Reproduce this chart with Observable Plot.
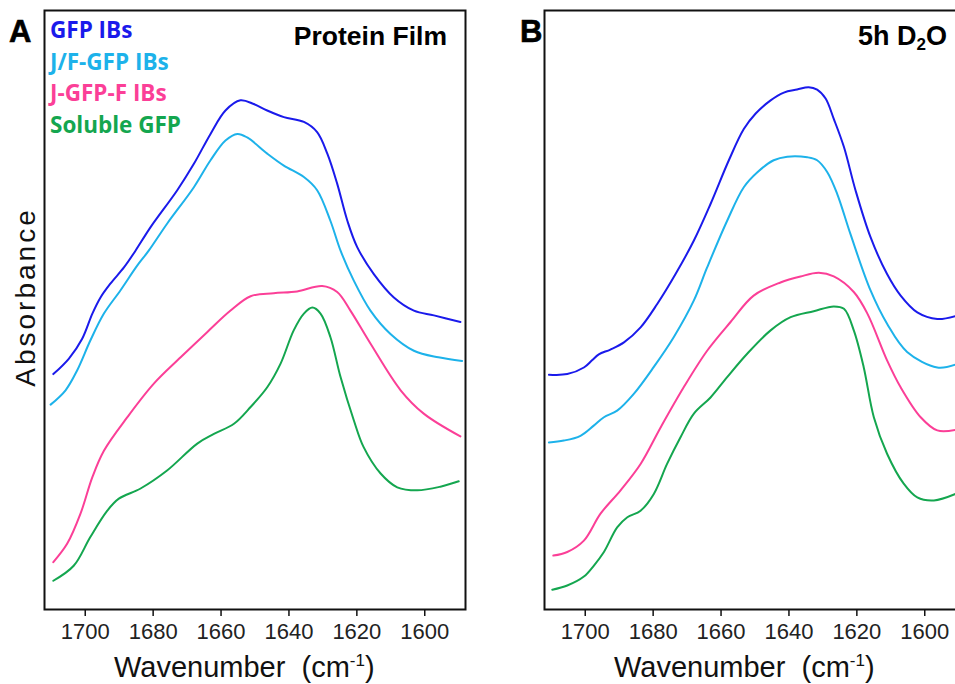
<!DOCTYPE html>
<html><head><meta charset="utf-8">
<script src="https://cdn.jsdelivr.net/npm/d3@7"></script>
<script src="https://cdn.jsdelivr.net/npm/@observablehq/plot@0.6"></script>
<style>
html,body{margin:0;padding:0;background:#fff;overflow:hidden}
#wrap{position:relative;width:955px;height:684px;overflow:hidden;background:#fff}
#wrap svg{position:absolute;top:0}
</style></head><body><div id="wrap"></div>
<script>
// ---- data (normalised absorbance vs wavenumber, cm-1) ----
const wavenumberTicks = [1700, 1680, 1660, 1640, 1620, 1600];
const seriesNames = ["GFP IBs", "J/F-GFP IBs", "J-GFP-F IBs", "Soluble GFP"];
const seriesColors = ["#1a1aeb", "#1db2ea", "#fb3f97", "#14a64f"];
const panelTitles = ["Protein Film", "5h D2O"];
const panelLetters = ["A", "B"];

// Panel A: Protein Film
const filmGFP = [[1709.4,0.393],[1704.8,0.419],[1700.9,0.452],[1697.9,0.494],[1695.5,0.521],[1692.6,0.544],[1688.6,0.571],[1685.2,0.599],[1680.8,0.638],[1672.9,0.700],[1668.0,0.744],[1663.1,0.794],[1658.7,0.833],[1654.3,0.850],[1650.4,0.844],[1646.4,0.833],[1641.5,0.822],[1635.6,0.814],[1631.7,0.797],[1628.7,0.761],[1625.8,0.711],[1622.8,0.649],[1619.9,0.605],[1615.0,0.560],[1609.1,0.521],[1603.2,0.499],[1597.3,0.491],[1589.5,0.480]];
const filmJF = [[1710.2,0.342],[1705.8,0.366],[1702.4,0.399],[1698.5,0.449],[1694.5,0.494],[1689.6,0.533],[1684.7,0.574],[1681.3,0.599],[1675.9,0.644],[1668.0,0.705],[1663.1,0.750],[1658.7,0.783],[1655.2,0.794],[1652.3,0.788],[1646.4,0.761],[1641.5,0.741],[1635.6,0.722],[1631.7,0.700],[1627.8,0.649],[1624.8,0.599],[1620.9,0.549],[1616.0,0.499],[1610.1,0.460],[1603.2,0.432],[1596.0,0.421],[1589.0,0.415]];
const filmJGFPF = [[1709.4,0.079],[1705.3,0.110],[1701.4,0.160],[1697.9,0.221],[1694.5,0.265],[1687.6,0.321],[1679.8,0.377],[1671.9,0.421],[1664.1,0.463],[1657.2,0.499],[1651.3,0.523],[1644.5,0.528],[1637.6,0.531],[1630.2,0.540],[1625.8,0.530],[1621.9,0.499],[1616.0,0.444],[1607.1,0.366],[1600.3,0.327],[1589.5,0.289]];
const filmSoluble = [[1709.4,0.048],[1703.4,0.073],[1698.5,0.121],[1693.5,0.165],[1690.1,0.185],[1683.7,0.202],[1675.9,0.232],[1667.0,0.277],[1662.1,0.293],[1656.2,0.310],[1651.3,0.338],[1646.4,0.371],[1642.5,0.410],[1638.6,0.466],[1635.6,0.494],[1633.1,0.504],[1630.7,0.494],[1627.8,0.455],[1624.8,0.388],[1620.9,0.316],[1618.0,0.271],[1613.0,0.227],[1608.1,0.204],[1602.2,0.199],[1595.4,0.205],[1590.0,0.214]];

// Panel B: 5h D2O
const d2oGFP = [[1710.7,0.392],[1705.3,0.393],[1700.4,0.404],[1698.0,0.416],[1696.0,0.426],[1692.6,0.434],[1688.6,0.446],[1683.7,0.471],[1678.8,0.510],[1673.4,0.560],[1668.0,0.616],[1663.1,0.677],[1657.7,0.750],[1653.3,0.802],[1649.8,0.828],[1645.4,0.850],[1641.5,0.863],[1637.6,0.868],[1634.2,0.872],[1631.7,0.868],[1629.2,0.853],[1626.8,0.819],[1623.8,0.772],[1620.4,0.700],[1616.0,0.622],[1611.1,0.560],[1607.1,0.524],[1602.2,0.496],[1596.3,0.485],[1590.9,0.490]];
const d2oJF = [[1710.7,0.279],[1706.3,0.282],[1701.4,0.290],[1697.5,0.307],[1694.5,0.321],[1690.6,0.332],[1685.7,0.360],[1679.8,0.405],[1673.9,0.455],[1668.0,0.516],[1664.1,0.571],[1658.2,0.649],[1653.3,0.705],[1649.3,0.730],[1644.5,0.750],[1640.5,0.756],[1634.6,0.755],[1631.7,0.750],[1628.7,0.730],[1625.8,0.694],[1621.9,0.627],[1616.0,0.533],[1611.1,0.477],[1605.2,0.430],[1596.3,0.404],[1590.9,0.409]];
const d2oJGFPF = [[1709.4,0.090],[1705.3,0.096],[1700.4,0.115],[1695.5,0.160],[1689.6,0.199],[1683.7,0.243],[1677.8,0.304],[1671.0,0.371],[1664.1,0.432],[1657.2,0.480],[1650.4,0.524],[1642.5,0.546],[1636.6,0.556],[1631.2,0.562],[1626.8,0.556],[1620.9,0.530],[1616.9,0.494],[1611.1,0.416],[1607.1,0.371],[1601.2,0.321],[1596.3,0.299],[1590.9,0.300]];
const d2oSoluble = [[1709.7,0.033],[1705.3,0.040],[1700.4,0.055],[1697.5,0.073],[1694.5,0.096],[1690.6,0.137],[1687.6,0.154],[1683.7,0.165],[1679.8,0.193],[1675.9,0.243],[1671.9,0.288],[1668.0,0.327],[1663.1,0.354],[1658.2,0.388],[1652.3,0.427],[1645.4,0.466],[1639.5,0.488],[1632.7,0.498],[1626.8,0.506],[1623.8,0.502],[1620.9,0.466],[1618.0,0.405],[1615.0,0.321],[1611.1,0.260],[1606.2,0.210],[1602.2,0.187],[1597.3,0.182],[1590.9,0.193]];

const panels = [
  {series: [filmGFP, filmJF, filmJGFPF, filmSoluble], left: 0, legend: true},
  {series: [d2oGFP, d2oJF, d2oJGFPF, d2oSoluble], left: 500, legend: false}
];

const wrap = document.getElementById("wrap");
const ARIAL = "'Liberation Sans', Arial, sans-serif";

panels.forEach((p, i) => {
  const marks = [];
  p.series.forEach((s, k) => {
    marks.push(Plot.line(s, {x: d => d[0], y: d => d[1], stroke: seriesColors[k], strokeWidth: 2, curve: "catmull-rom"}));
  });
  marks.push(Plot.frame({stroke: "#111", strokeWidth: 2}));
  marks.push(Plot.axisX({ticks: wavenumberTicks, tickSize: 7, tickPadding: 7, tickFormat: d => String(d), label: null, fill: "#222", stroke: "#111", strokeWidth: 1.5}));
  const chart = Plot.plot({
    width: 480, height: 684,
    marginLeft: 44, marginRight: 15, marginTop: 10, marginBottom: 75,
    x: {domain: [1712, 1588]},
    y: {domain: [0, 1], axis: null},
    style: {fontFamily: ARIAL, fontSize: "22px", background: "transparent", overflow: "visible"},
    marks
  });
  chart.style.left = p.left + "px";
  wrap.appendChild(chart);
  const svg = d3.select(chart);
  const xs = chart.scale("x");

  // panel letter
  svg.append("text").attr("x", i === 0 ? 9 : 20).attr("y", 42).attr("text-anchor", "start")
    .attr("font-family", ARIAL).attr("font-weight", "bold").attr("font-size", 31).attr("fill", "#000")
    .attr("stroke", "#000").attr("stroke-width", 0.6)
    .text(panelLetters[i]);

  // panel title
  const t = svg.append("text").attr("x", 447).attr("y", 45).attr("text-anchor", "end")
    .attr("font-family", ARIAL).attr("font-weight", "bold").attr("font-size", i === 0 ? 26.5 : 27).attr("fill", "#000");
  if (i === 0) t.text(panelTitles[0]);
  else {
    t.append("tspan").text("5h D");
    t.append("tspan").attr("font-size", 17).attr("dy", 5).text("2");
    t.append("tspan").attr("dy", -5).text("O");
  }

  // x axis title
  const xt = svg.append("text").attr("x", xs.apply(1653)).attr("y", 677).attr("text-anchor", "middle")
    .attr("font-family", ARIAL).attr("font-size", 29).attr("fill", "#111").attr("xml:space", "preserve");
  xt.append("tspan").text("Wavenumber  (cm");
  xt.append("tspan").attr("font-size", 17).attr("dy", -11).text("-1");
  xt.append("tspan").attr("dy", 11).text(")");

  if (p.legend) {
    // y axis title
    svg.append("text").attr("transform", "translate(35,297) rotate(-90)").attr("text-anchor", "middle")
      .attr("font-family", ARIAL).attr("font-size", 28).attr("letter-spacing", 3).attr("fill", "#111")
      .text("Absorbance");
    // legend
    seriesNames.forEach((n, k) => {
      svg.append("text").attr("x", 50).attr("y", 38 + k * 31.7).attr("text-anchor", "start")
        .attr("font-family", "'Open Sans', sans-serif").attr("font-weight", "bold").attr("font-size", 22.5)
        .attr("fill", seriesColors[k]).text(n);
    });
  }
});
</script></body></html>
